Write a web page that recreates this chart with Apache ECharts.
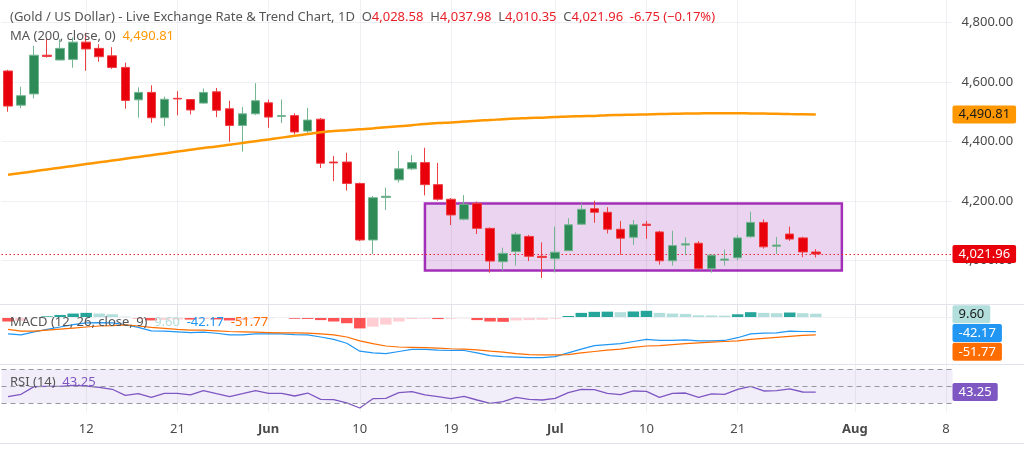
<!DOCTYPE html>
<html><head><meta charset="utf-8">
<script src="https://cdn.jsdelivr.net/npm/echarts@6/dist/echarts.min.js"></script>
<style>html,body{margin:0;padding:0;background:#fff;}#c{width:1024px;height:459px;}</style>
</head><body><div id="c"></div>
<script>
const dates = ['2026-05-04','2026-05-05','2026-05-06','2026-05-07','2026-05-08','2026-05-11','2026-05-12','2026-05-13','2026-05-14','2026-05-15',
'2026-05-18','2026-05-19','2026-05-20','2026-05-21','2026-05-22','2026-05-25','2026-05-26','2026-05-27','2026-05-28','2026-05-29',
'2026-06-01','2026-06-02','2026-06-03','2026-06-04','2026-06-05','2026-06-08','2026-06-09','2026-06-10','2026-06-11','2026-06-12',
'2026-06-15','2026-06-16','2026-06-17','2026-06-18','2026-06-19','2026-06-22','2026-06-23','2026-06-24','2026-06-25','2026-06-26',
'2026-06-29','2026-06-30','2026-07-01','2026-07-02','2026-07-03','2026-07-06','2026-07-07','2026-07-08','2026-07-09','2026-07-10',
'2026-07-13','2026-07-14','2026-07-15','2026-07-16','2026-07-17','2026-07-20','2026-07-21','2026-07-22','2026-07-23','2026-07-24',
'2026-07-27','2026-07-28','2026-07-29','2026-07-30','2026-07-31','2026-08-03','2026-08-04','2026-08-05','2026-08-06','2026-08-07',
'2026-08-10','2026-08-11','2026-08-12'];
const tickLabels = {6:'12',13:'21',20:'Jun',27:'10',34:'19',42:'Jul',49:'10',56:'21',65:'Aug',72:'8'};
const monthLabels = ['Jun','Jul','Aug'];
const priceTicks = [4000,4200,4400,4600,4800];

const opens  = [4637,4522,4560,4690,4674,4676,4734,4713,4688,4649, 4540,4565,4480,4545,4541,4529,4567,4510,4454,4493,
  4530,4484,4487,4435,4475,4331,4331,4259,4069,4212, 4271,4308,4329,4255,4206,4139,4192,4108,3996,4030,
  4081,4014,4006,4033,4122,4174,4162,4105,4078,4122, 4096,3999,4052,4058,3973,4001,4009,4080,4128,4048,
  4089,4076,4028.58];
const highs  = [4641,4584,4722,4745,4744,4750,4765,4727,4717,4665, 4582,4589,4551,4569,4543,4578,4580,4537,4516,4596,
  4541,4541,4495,4513,4479,4351,4362,4262,4217,4245, 4368,4354,4379,4328,4210,4220,4198,4111,4043,4095,
  4086,4061,4114,4142,4192,4201,4179,4133,4136,4133, 4100,4100,4078,4065,4021,4037,4086,4164,4138,4079,
  4114,4080,4037.98];
const lows   = [4500,4512,4545,4682,4672,4648,4638,4668,4644,4510, 4480,4463,4452,4488,4491,4527,4482,4399,4366,4489,
  4446,4462,4424,4422,4311,4267,4235,4065,4022,4170, 4262,4304,4219,4201,4119,4135,4089,3959,3966,3983,
  3998,3941,3960,4032,4119,4127,4091,4019,4052,4073, 3986,3983,4018,3968,3959,3983,4001,4076,4040,4022,
  4066,4011,4010.35];
const closes = [4519,4554,4690,4686,4713,4734,4711,4685,4649,4538, 4565,4480,4542,4543,4506,4565,4505,4454,4493,4537,
  4482,4487,4432,4472,4327,4328,4259,4069,4211,4216, 4308,4329,4255,4206,4153,4189,4108,3998,4024,4088,
  4014,4010,4028,4120,4172,4162,4105,4075,4120,4118, 3999,4050,4056,3973,4018,4005,4076,4128,4046,4052,
  4072,4028.71,4021.96];
const ma200 = [4288,4294,4300,4306,4312,4318,4324,4330,4336,4342, 4348,4354,4360,4366,4372,4378,4383,4389,4395,4401,
  4407,4413,4419,4425,4431,4435,4438,4441,4444,4448, 4451,4455,4459,4462,4464,4467,4470,4472,4475,4477,
  4479,4480,4482,4484,4485,4486,4488,4489,4490,4491, 4492,4493,4494,4494.5,4495,4495,4495,4494.5,4494,4493,
  4492,4491.5,4490.81];
const macdLine = [-49,-52,-43,-36,-29,-22,-17,-16,-17,-22, -30,-40,-41,-43,-45,-44,-47,-52,-52,-49,
  -49,-49,-51,-52,-58,-65,-76,-99,-104,-106, -100,-94,-94,-96,-97,-97,-104,-112,-115,-116,
  -118,-118,-115,-104,-93,-83,-80,-77,-71,-65, -68,-68,-66,-69,-69,-68,-60,-49,-47,-46,
  -41,-42,-42.17];
const signalLine = [-36,-41,-41,-38,-35,-32,-29,-26,-25,-23, -26,-30,-33,-36,-38,-38,-40,-42,-43,-44,
  -45,-46,-46,-47,-49,-52,-58,-69,-77,-84, -87,-88,-89,-90,-92,-93,-95,-99,-102,-106,
  -109,-110,-110,-109,-104,-100,-96,-93,-88,-84, -83,-80,-77,-75,-73,-71,-69,-65,-62,-59,
  -56,-53,-51.77];
const macdHist = [-13,-11,-2,2,6,10,12,10,8,1, -4,-10,-8,-7,-7.5,-6,-7,-10,-9,-5,
  -4,-3,-5,-5.5,-9,-13,-18,-33,-28,-22, -13,-6,-5,-6,-5,-4,-9,-13,-14,-10,
  -9,-8,-5,3,12,15,15.5,14,16,18, 12,10,9,5,4.5,4,8,14,12,11,
  13,11,9.6];
const rsi = [37.8,40.6,49.6,50,50,51.2,50.3,48.8,46.5,39.4, 41.3,37,41.8,41.8,39.8,44.9,41.3,37.8,41.3,44.9,
  41.8,41.8,38.6,42.1,34.7,34.3,30.4,24.5,35.4,35.9, 42.5,43.7,39.8,37.8,35.4,38.2,33.9,30,31.9,37,
  34.7,33.9,35.9,42.5,46.5,46.1,41.8,40.2,44.5,44.1, 37,41.8,42.1,37,41,40.6,46.5,50,44.5,44.9,
  46.9,43.3,43.25];
const rsiLevels = [70, 50, 30];
const rangeBox = {from: 32, to: 64, top: 4192, bottom: 3966};

const FONT = 'Noto Sans';
const fmt = v => v.toLocaleString('en-US', {minimumFractionDigits: 2, maximumFractionDigits: 2});
const last = a => a[a.length - 1];
const L = 1.5, R = 71.4;
const GRID_LINE = '#eef0f4';
const VGRID = 'rgba(42,46,70,0.07)';

const chart = echarts.init(document.getElementById('c'));
const candleData = opens.map((o, i) => [o, closes[i], lows[i], highs[i]]);
const vLines = Object.keys(tickLabels).map(k => ({xAxis: +k, lineStyle: {color: VGRID, width: 1, type: 'solid'}}));

function xAxisFor(g) {
  return {
    type: 'category', gridIndex: g, data: dates, boundaryGap: true,
    axisLine: {show: false}, axisTick: {show: false}, splitLine: {show: false},
    axisPointer: {show: false},
    axisLabel: {
      show: g === 2, interval: i => tickLabels[i] !== undefined, margin: 11,
      color: '#4a4a4a', fontFamily: FONT, fontSize: 13,
      formatter: (v, i) => monthLabels.includes(tickLabels[i]) ? '{m|' + tickLabels[i] + '}' : (tickLabels[i] || ''),
      rich: {m: {fontWeight: 'bold', color: '#4a4a4a', fontFamily: FONT, fontSize: 13}}
    }
  };
}

const option = {
  animation: false,
  grid: [
    {left: L, right: R, top: 0, height: 320},
    {left: L, right: R, top: 304, height: 60},
    {left: L, right: R, top: 364, height: 48}
  ],
  xAxis: [xAxisFor(0), xAxisFor(1), xAxisFor(2)],
  yAxis: [
    {type: 'value', gridIndex: 0, position: 'right', min: 3800, max: 4875.6, interval: 200,
      axisLine: {show: false}, axisTick: {show: false},
      axisLabel: {formatter: v => priceTicks.includes(v) ? fmt(v) : '', color: '#4a4a4a', fontFamily: FONT, fontSize: 13, margin: 9},
      splitLine: {lineStyle: {color: ['rgba(0,0,0,0)', GRID_LINE, GRID_LINE, GRID_LINE, GRID_LINE, GRID_LINE, 'rgba(0,0,0,0)']}}},
    {type: 'value', gridIndex: 1, position: 'right', min: -136.2, max: 37.7,
      axisLine: {show: false}, axisTick: {show: false}, axisLabel: {show: false}, splitLine: {show: false}},
    {type: 'value', gridIndex: 2, position: 'right', min: 19.8, max: 76.2,
      axisLine: {show: false}, axisTick: {show: false}, axisLabel: {show: false}, splitLine: {show: false}}
  ],
  series: [
    {type: 'candlestick', xAxisIndex: 0, yAxisIndex: 0, data: candleData, barWidth: 9, z: 3,
      itemStyle: {color: '#2e8b57', color0: '#e8000b', borderColor: '#74b592', borderColor0: '#ee3e44', borderWidth: 1},
      markArea: {silent: true, z: 1,
        itemStyle: {color: 'rgba(156,39,176,0.2)', borderColor: '#a32fb8', borderWidth: 2.5},
        data: [[{xAxis: rangeBox.from, yAxis: rangeBox.top}, {xAxis: rangeBox.to, yAxis: rangeBox.bottom}]]},
      markLine: {silent: true, symbol: 'none', label: {show: false}, animation: false, z: 1,
        data: vLines.concat([{yAxis: last(closes), lineStyle: {color: '#f0202a', type: [1.5, 2.5], width: 1}}])}
    },
    {type: 'line', xAxisIndex: 0, yAxisIndex: 0, data: ma200, symbol: 'none', smooth: true, z: 4,
      lineStyle: {color: '#ff9800', width: 2.5}},
    {type: 'bar', xAxisIndex: 1, yAxisIndex: 1, data: macdHist, barWidth: '88%',
      itemStyle: {color: p => {
        const i = p.dataIndex, v = macdHist[i], prev = i > 0 ? macdHist[i - 1] : 0;
        if (v >= 0) return v >= prev ? '#26a69a' : '#b2dfdb';
        return v < prev ? '#ff5252' : '#ffcdd2';
      }},
      markLine: {silent: true, symbol: 'none', label: {show: false}, animation: false,
        data: vLines.concat([{yAxis: 0, lineStyle: {color: GRID_LINE, type: 'solid', width: 1}}])}
    },
    {type: 'line', xAxisIndex: 1, yAxisIndex: 1, data: macdLine, symbol: 'none', lineStyle: {color: '#2196f3', width: 1.2}},
    {type: 'line', xAxisIndex: 1, yAxisIndex: 1, data: signalLine, symbol: 'none', lineStyle: {color: '#ff6d00', width: 1.2}},
    {type: 'line', xAxisIndex: 2, yAxisIndex: 2, data: rsi, symbol: 'none', lineStyle: {color: '#7e57c2', width: 1.3}, z: 4,
      markArea: {silent: true, itemStyle: {color: 'rgba(126,87,194,0.1)'},
        data: [[{yAxis: rsiLevels[0]}, {yAxis: rsiLevels[2]}]]},
      markLine: {silent: true, symbol: 'none', label: {show: false}, animation: false,
        data: vLines.concat(rsiLevels.map(v => ({yAxis: v, lineStyle: {color: '#9598a1', type: [5, 4], width: 1}})))}
    }
  ]
};
chart.setOption(option);

// overlay texts and value boxes
const n = closes.length;
const chg = closes[n - 1] - closes[n - 2];
const pct = chg / closes[n - 2] * 100;
const sgn = v => (v < 0 ? '-' : '+');
const red = '#e8202a', grey = '#555';
const legendRich = {
  t: {fill: grey, font: '13px ' + FONT},
  r: {fill: red, font: '13px ' + FONT},
  o: {fill: '#ff9800', font: '13px ' + FONT},
  b: {fill: '#2196f3', font: '13px ' + FONT},
  d: {fill: '#ff6d00', font: '13px ' + FONT},
  h: {fill: '#b2dfdb', font: '13px ' + FONT},
  p: {fill: '#7e57c2', font: '13px ' + FONT}
};
const titleText = '{t|(Gold / US Dollar) - Live Exchange Rate & Trend Chart, 1D  O}{r|' + fmt(opens[n - 1]) +
  '}{t|  H}{r|' + fmt(highs[n - 1]) + '}{t|  L}{r|' + fmt(lows[n - 1]) + '}{t|  C}{r|' + fmt(closes[n - 1]) +
  '}{r|  ' + sgn(chg) + Math.abs(chg).toFixed(2) + ' (' + (pct < 0 ? '\u2212' : '+') + Math.abs(pct).toFixed(2) + '%)}';

function box(axisIdx, value, text, bg, fg, dy) {
  const y = chart.convertToPixel({yAxisIndex: axisIdx}, value) + dy;
  return {type: 'text', x: 952.5, y: y, z: 100,
    style: {text: text, fill: fg, font: '13px ' + FONT, backgroundColor: bg, padding: [3, 6, 2, 6], borderRadius: 2, verticalAlign: 'middle', align: 'left'}};
}
const sep = y => ({type: 'line', shape: {x1: 0, y1: y, x2: 1024, y2: y}, style: {stroke: '#e0e3eb', lineWidth: 1}, z: 50, silent: true});

chart.setOption({graphic: [
  sep(304.5), sep(364.5), sep(443.5),
  {type: 'text', x: 10, y: 17, z: 100, style: {text: titleText, rich: legendRich, verticalAlign: 'middle'}},
  {type: 'text', x: 10, y: 36, z: 100, style: {text: '{t|MA (200, close, 0)}  {o|' + fmt(last(ma200)) + '}', rich: legendRich, verticalAlign: 'middle'}},
  {type: 'text', x: 10, y: 322, z: 100, style: {text: '{t|MACD (12, 26, close, 9)}  {h|' + last(macdHist).toFixed(2) + '}  {b|' + last(macdLine).toFixed(2) + '}  {d|' + last(signalLine).toFixed(2) + '}', rich: legendRich, verticalAlign: 'middle'}},
  {type: 'text', x: 10, y: 382, z: 100, style: {text: '{t|RSI (14)}  {p|' + last(rsi).toFixed(2) + '}', rich: legendRich, verticalAlign: 'middle'}},
  box(0, last(ma200), fmt(last(ma200)), '#ff9800', '#1a1a1a', 0),
  box(0, last(closes), fmt(last(closes)), '#e8000b', '#ffffff', 0),
  box(1, last(macdHist), last(macdHist).toFixed(2), '#b2dfdb', '#1a1a1a', 0.5),
  box(1, last(macdLine), last(macdLine).toFixed(2), '#2196f3', '#ffffff', 1.5),
  box(1, last(signalLine), last(signalLine).toFixed(2), '#ff6d00', '#ffffff', 17),
  box(2, last(rsi), last(rsi).toFixed(2), '#7e57c2', '#ffffff', 0)
]});
</script></body></html>
